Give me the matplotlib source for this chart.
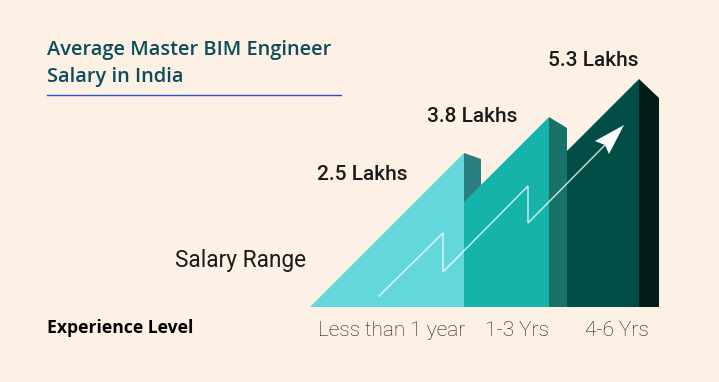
import matplotlib
matplotlib.use("Agg")
import matplotlib.pyplot as plt
from matplotlib.patches import Polygon

# data
categories = ["Less than 1 year", "1-3 Yrs", "4-6 Yrs"]
salaries = [2.5, 3.8, 5.3]          # lakhs
peak_x = [464, 549, 639]            # x of each bar's peak (px)
peak_h = [154, 190, 228]            # drawn height of each peak above baseline (px)
face_left = [310, 464, 567]         # where each front face starts
side_w = [17, 18, 20]               # width of the shaded side face
side_drop = [6, 11, 19]             # how far the side face top falls
face_colors = ["#62D8DC", "#15B3A9", "#024E47"]
side_colors = ["#2B7E80", "#177369", "#031D1B"]
label_x = [362, 472, 593]
label_y = [175, 117, 60]
tick_x = [392, 517, 617]

# zigzag growth arrow (px)
arrow_x = [379, 443, 443, 528, 528, 605]
arrow_y = [296, 233, 272, 186, 223, 145]

baseline = 307
bg = "#FDF1E6"

fig = plt.figure(figsize=(7.19, 3.82), dpi=100, facecolor=bg)
ax = fig.add_axes([0, 0, 1, 1])
ax.set_xlim(0, 719)
ax.set_ylim(382, 0)
ax.axis("off")

for i in range(len(salaries)):
    px, h = peak_x[i], peak_h[i]
    top = baseline - h
    sx = px + side_w[i]
    # side face
    ax.add_patch(Polygon([(px, top), (sx, top + side_drop[i]), (sx, baseline), (px, baseline)],
                         closed=True, facecolor=side_colors[i], edgecolor="none", zorder=2 + 2 * i))
    # front face, 45 degree slope up to the peak
    left = face_left[i]
    yl = min(baseline, top + (px - left))
    if yl >= baseline:
        pts = [(left, baseline), (px, top), (px, baseline)]
    else:
        pts = [(left, yl), (px, top), (px, baseline), (left, baseline)]
    ax.add_patch(Polygon(pts, closed=True, facecolor=face_colors[i], edgecolor="none",
                         zorder=3 + 2 * i))
    ax.text(label_x[i], label_y[i], f"{salaries[i]} Lakhs", ha="center", va="center",
            fontsize=15, family="Roboto", fontweight="medium", color="#1a1a1a", zorder=10)

# arrow
ax.plot(arrow_x, arrow_y, color="white", lw=1.1, alpha=0.75, zorder=20,
        solid_joinstyle="miter")
ax.add_patch(Polygon([(624, 125), (595, 141), (605, 145), (609, 154)], closed=True,
                     facecolor="white", edgecolor="none", zorder=21))

# labels
ax.text(47, 50, "Average Master BIM Engineer", fontsize=14.4, family="Open Sans",
        fontweight="semibold", color="#0C4B5A", va="center", ha="left")
ax.text(47, 77, "Salary in India", fontsize=14.4, family="Open Sans",
        fontweight="semibold", color="#0C4B5A", va="center", ha="left")
ax.plot([47, 341], [95, 95], color="#2E55C8", lw=1)

ax.text(175, 261, "Salary Range", fontsize=16.3, family="Roboto", color="#1a1a1a",
        va="center", ha="left")
ax.text(47, 328, "Experience Level", fontsize=12.6, family="Open Sans",
        fontweight="bold", color="#000000", va="center", ha="left")
for x, c in zip(tick_x, categories):
    ax.text(x, 330, c, fontsize=15, family="Roboto", fontweight="light", color="#1a1a1a",
            va="center", ha="center")

fig.savefig("out.png", dpi=100, facecolor=bg)
